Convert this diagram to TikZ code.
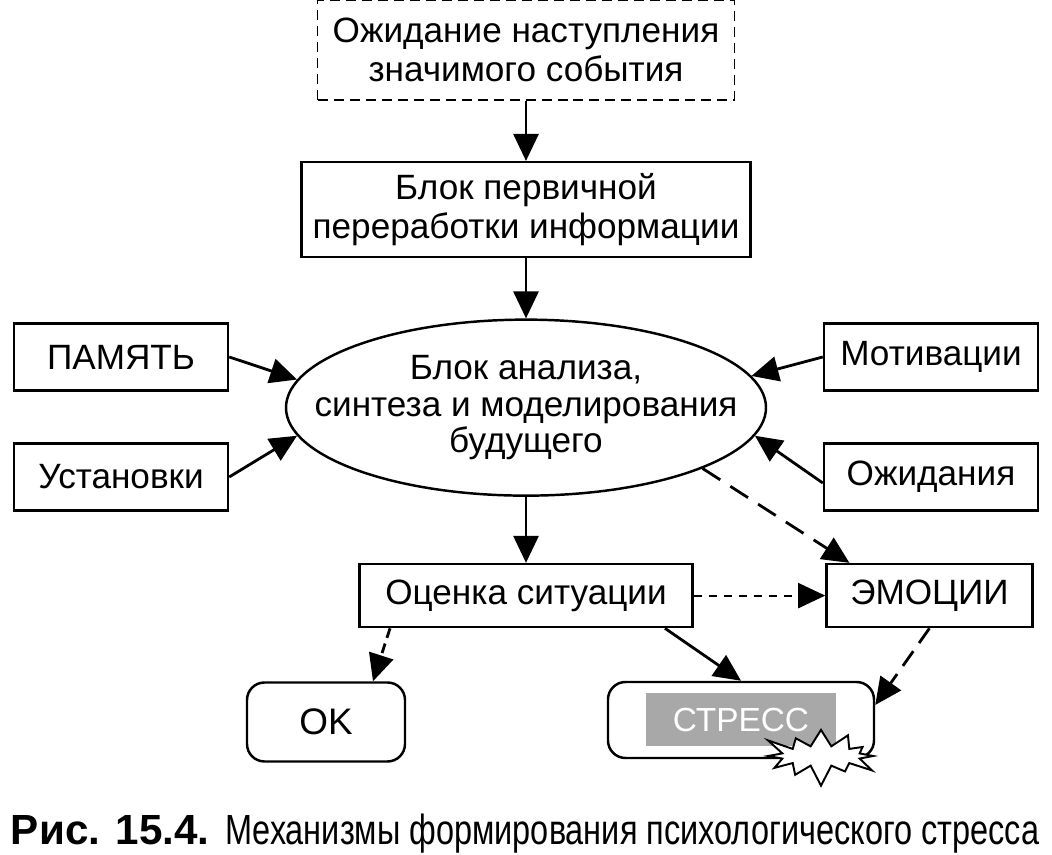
\documentclass[tikz,border=0pt]{standalone}
\usepackage{fontspec}
\setmainfont{Liberation Sans}
\newfontfamily\narrowfont[FakeStretch=0.77]{Liberation Sans}
\usepackage{tikz}
\usetikzlibrary{positioning}
\usetikzlibrary{shapes.geometric, shapes.symbols, arrows.meta}
\definecolor{mygray}{RGB}{168,168,168}
\tikzstyle{box} = [rectangle, draw=black, line width=1.4pt, align=center, inner sep=0pt, font=\fontsize{20}{22.5}\selectfont]
\tikzstyle{waitbox} = [box, dash pattern=on 0.2cm off 0.12cm, line width=1.1pt]
\tikzstyle{oval} = [ellipse, draw=black, line width=1.4pt, align=center, inner xsep=-1.1cm, inner ysep=-0.3cm, font=\fontsize{20}{21}\selectfont]
\tikzstyle{rbox} = [box, rounded corners=0.35cm]
\tikzstyle{link} = [line width=1.6pt, -{Triangle[length=0.54cm,width=0.5cm]}]
\tikzstyle{dlink} = [link, dash pattern=on 0.42cm off 0.24cm]
\tikzstyle{dotlink} = [link, line width=1.1pt, dash pattern=on 0.17cm off 0.13cm]

\begin{document}
\begin{tikzpicture}
	\useasboundingbox (0,0) rectangle (21.04,17.1);
	\node (wait) [waitbox, minimum width=8.34cm, minimum height=2cm] at (10.52,16.1) {Ожидание наступления\\значимого события};
	\node (prim) [box, minimum width=8.98cm, minimum height=1.9cm, below=1.2cm of wait] {Блок первичной\\переработки информации};
	\node (anal) [oval, minimum width=9.6cm, minimum height=3.52cm, below=1.2cm of prim] {Блок анализа,\\синтеза и моделирования\\будущего};
	\node (mem) [box, minimum width=4.28cm, minimum height=1.34cm] at (2.42,9.96) {ПАМЯТЬ};
	\node (set) [box, minimum width=4.28cm, minimum height=1.34cm] at (2.42,7.56) {Установки};
	\node (mot) [box, minimum width=4.28cm, minimum height=1.34cm] at (18.62,9.96) {Мотивации};
	\node (exp) [box, minimum width=4.28cm, minimum height=1.34cm] at (18.62,7.56) {Ожидания};
	\node (eval) [box, minimum width=6.66cm, minimum height=1.26cm, below=1.32cm of anal] {Оценка ситуации};
	\node (emo) [box, minimum width=4.12cm, minimum height=1.26cm, right=2.63cm of eval] {ЭМОЦИИ};
	\node (ok) [rbox, minimum width=3.16cm, minimum height=1.58cm, font=\fontsize{21}{22}\selectfont] at (6.52,2.66) {OK};
	\node (stress) [rbox, minimum width=5.32cm, minimum height=1.52cm] at (14.82,2.70) {};
	\node (stresslbl) [fill=mygray, text=white, minimum width=3.8cm, minimum height=1.06cm, inner sep=0pt, font=\fontsize{19}{22}\selectfont] at (stress.center) {СТРЕСС};
	\node (burst) [starburst, draw=black, fill=white, line width=1.1pt, minimum width=2.5cm, minimum height=1.3cm, starburst points=12, starburst point height=0.45cm] at (16.42,1.98) {};
	\node (cap) [font=\fontsize{24}{26}\selectfont] at (10.5,0.42) {\textbf{Рис. 15.4.} {\narrowfont Механизмы формирования психологического стресса}};
	\draw [link] (wait) -- (prim);
	\draw [link] (prim) -- (anal);
	\draw [link] (mem.east) -- (anal.173);
	\draw [link] (set.east) -- (anal.187);
	\draw [link] (mot.west) -- (anal.8);
	\draw [link] ([yshift=-0.12cm]exp.west) -- (anal.-7);
	\draw [link] (anal) -- (eval);
	\draw [dlink] (anal.-19) -- ([xshift=-1.6cm]emo.north);
	\draw [dotlink] (eval) -- (emo);
	\draw [link, dash pattern=on 0.2cm off 0.12cm] ([xshift=-2.72cm]eval.south) -- ([xshift=0.94cm]ok.north);
	\draw [link] ([xshift=2.78cm]eval.south) -- (stress.north);
	\draw [dlink, dash pattern=on 0.36cm off 0.2cm] (emo.south) -- ([yshift=0.3cm]stress.east);
\end{tikzpicture}
\end{document}
